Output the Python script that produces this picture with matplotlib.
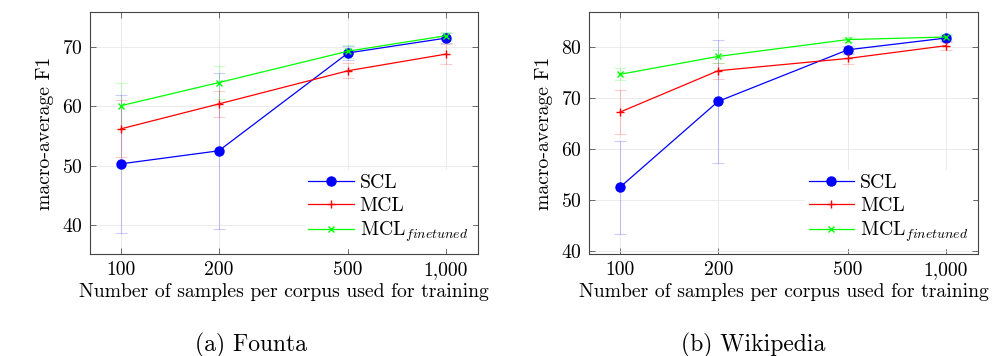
import matplotlib
matplotlib.use('Agg')
import matplotlib.pyplot as plt
from matplotlib.ticker import NullLocator

plt.rcParams['font.family'] = ['cmr10', 'DejaVu Serif']
plt.rcParams['mathtext.fontset'] = 'cm'
plt.rcParams['axes.formatter.use_mathtext'] = True

### DATA
samples = [100, 200, 500, 1000]
sample_labels = ['100', '200', '500', '1,000']

founta_scl = [50.3, 52.5, 69.0, 71.5]
founta_scl_err = [11.6, 13.1, 1.2, 0.8]
founta_mcl = [56.2, 60.4, 66.0, 68.8]
founta_mcl_err = [4.8, 2.2, 1.3, 1.7]
founta_ft = [60.1, 64.0, 69.3, 71.9]
founta_ft_err = [3.9, 2.8, 1.1, 0.7]

wiki_scl = [52.5, 69.3, 79.4, 81.7]
wiki_scl_err = [9.1, 12.0, 0.8, 0.5]
wiki_mcl = [67.2, 75.3, 77.7, 80.2]
wiki_mcl_err = [4.3, 1.6, 1.0, 0.8]
wiki_ft = [74.6, 78.1, 81.4, 81.9]
wiki_ft_err = [1.2, 1.3, 0.5, 0.5]

panels = [
    dict(scl=founta_scl, scl_err=founta_scl_err, mcl=founta_mcl, mcl_err=founta_mcl_err,
         ft=founta_ft, ft_err=founta_ft_err, ylim=(35.1, 75.9), yticks=[40, 50, 60, 70],
         caption='(a) Founta', pos=[0.0906, 0.2865, 0.3907, 0.6798], cap_x=0.253),
    dict(scl=wiki_scl, scl_err=wiki_scl_err, mcl=wiki_mcl, mcl_err=wiki_mcl_err,
         ft=wiki_ft, ft_err=wiki_ft_err, ylim=(39.4, 86.8), yticks=[40, 50, 60, 70, 80],
         caption='(b) Wikipedia', pos=[0.5932, 0.2865, 0.3917, 0.6798], cap_x=0.758),
]

series_style = [
    ('scl', 'SCL', 'blue', 'o', 6.5),
    ('mcl', 'MCL', 'red', '+', 6),
    ('ft', r'MCL$_{finetuned}$', '#00ff00', 'x', 4),
]

FS = 14.2

fig = plt.figure(figsize=(9.93, 3.56), dpi=100)

for p in panels:
    ax = fig.add_axes(p['pos'])
    ax.set_xscale('log')
    for key, label, color, marker, ms in series_style:
        ax.errorbar(samples, p[key], yerr=p[key + '_err'], fmt='none', ecolor=color,
                    alpha=0.2, elinewidth=0.8, capsize=4, capthick=0.8, zorder=2)
        ax.plot(samples, p[key], color=color, marker=marker, markersize=ms, lw=0.9,
                mew=1.0, label=label, zorder=3)
    ax.set_xlim(80.3, 1254)
    ax.set_ylim(*p['ylim'])
    ax.set_xticks(samples)
    ax.set_xticklabels(sample_labels)
    ax.xaxis.set_minor_locator(NullLocator())
    ax.set_yticks(p['yticks'])
    ax.grid(True, color='#e8e8e8', lw=0.6, zorder=0)
    ax.tick_params(direction='in', length=4.5, width=0.6, color='#555555',
                   top=True, right=True, labelsize=FS, pad=5)
    for s in ax.spines.values():
        s.set_color('#444444')
        s.set_linewidth(0.8)
    ax.set_xlabel('Number of samples per corpus used for training', fontsize=FS, labelpad=3)
    ax.set_ylabel('macro-average F1', fontsize=FS, labelpad=6)
    leg = ax.legend(loc='lower right', fontsize=FS, frameon=True, fancybox=False,
                    edgecolor='white', framealpha=1, handlelength=2.3,
                    borderaxespad=0.3, labelspacing=0.25, handletextpad=0.3,
                    borderpad=0.2)
    fig.text(p['cap_x'], 0.031, p['caption'], ha='center', va='center', fontsize=17)

fig.savefig('out.png', dpi=100)
